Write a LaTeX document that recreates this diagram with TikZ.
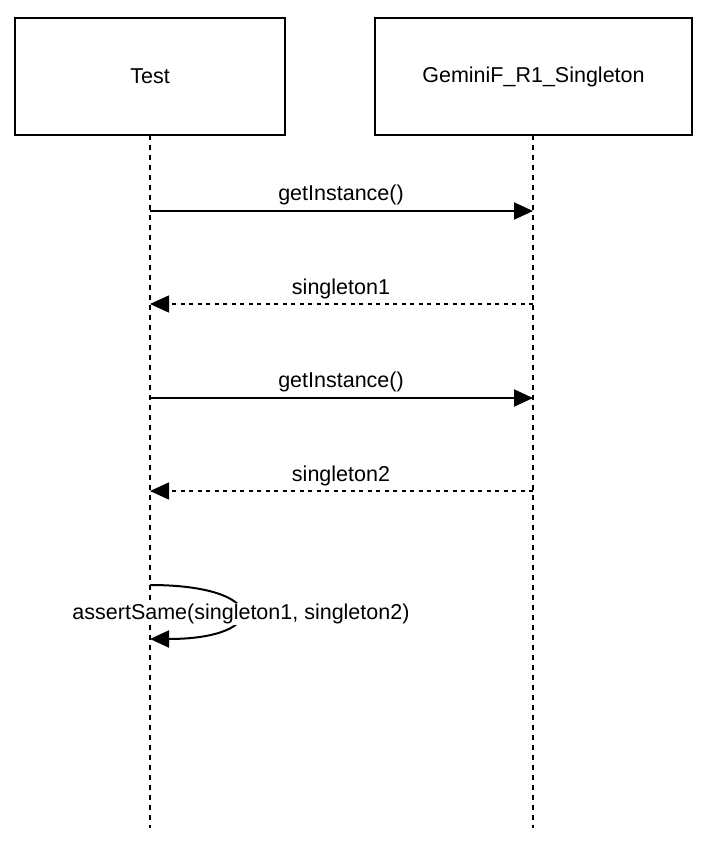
\documentclass[tikz,border=0pt]{standalone}
\usepackage{fontspec}
\setmainfont{Liberation Sans}
\usepackage{tikz}
\usetikzlibrary{arrows.meta, positioning}

\begin{document}
\begin{tikzpicture}[
    x=1pt, y=-1pt,
    actor/.style={draw, line width=1.5pt, minimum height=117pt, inner sep=0pt, outer sep=0pt, font=\fontsize{21.5}{24}\selectfont},
    lifeline/.style={line width=1.5pt, dash pattern=on 5pt off 5pt},
    call/.style={-{Triangle[length=19pt, width=17pt]}, line width=2pt},
    reply/.style={-{Triangle[length=19pt, width=17pt]}, line width=1.5pt, dash pattern=on 4pt off 4.5pt},
    msg/.style={font=\fontsize{21.5}{24}\selectfont, inner sep=1pt}
]
    \useasboundingbox (0,0) rectangle (724,846);

    % Actors
    \node[actor, minimum width=270pt] (test) at (150, 76.5) {Test};
    \node[actor, minimum width=317pt] (single) at (533.5, 76.5) {GeminiF\_R1\_Singleton};

    % Lifelines
    \coordinate (testend) at (150, 828);
    \coordinate (singleend) at (533, 828);
    \draw[lifeline] (150, 135) -- (testend);
    \draw[lifeline] (533, 135) -- (singleend);

    % Points on the lifelines
    \coordinate (t1) at (150, 211);   \coordinate (s1) at (533, 211);
    \coordinate (t2) at (150, 304);   \coordinate (s2) at (533, 304);
    \coordinate (t3) at (150, 398);   \coordinate (s3) at (533, 398);
    \coordinate (t4) at (150, 491);   \coordinate (s4) at (533, 491);
    \coordinate (t5) at (150, 585);   \coordinate (t6) at (150, 639);

    % Messages
    \draw[call] (t1) -- (s1);
    \node[msg] (get1) at (341, 195) {getInstance()};

    \draw[reply] (s2) -- (t2);
    \node[msg] (ret1) at (341, 289) {singleton1};

    \draw[call] (t3) -- (s3);
    \node[msg] (get2) at (341, 382) {getInstance()};

    \draw[reply] (s4) -- (t4);
    \node[msg] (ret2) at (341, 476) {singleton2};

    % Self call
    \draw[call] (t5) .. controls (270, 585) and (270, 639) .. (t6);
    \node[msg, fill=white] (assert) at (241, 614) {assertSame(singleton1, singleton2)};

\end{tikzpicture}
\end{document}
